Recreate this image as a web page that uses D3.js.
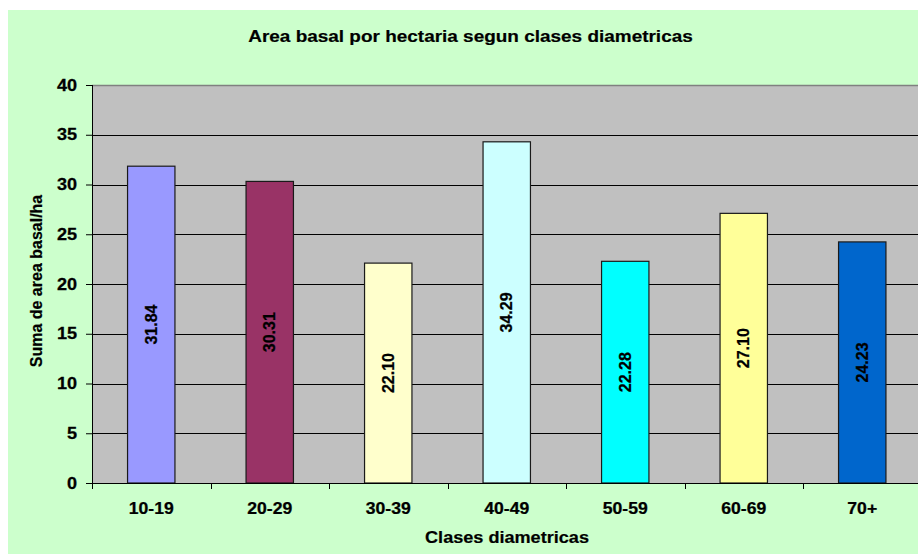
<!DOCTYPE html>
<html>
<head>
<meta charset="utf-8">
<script src="https://cdn.jsdelivr.net/npm/d3@7"></script>
<style>
  html, body { margin: 0; padding: 0; background: #ffffff; }
  svg { display: block; }
  text { font-family: "Liberation Sans", Arial, sans-serif; font-weight: bold; fill: #000; }
</style>
</head>
<body>
<svg id="chart" width="918" height="554"></svg>
<script>
const categories = ["10-19", "20-29", "30-39", "40-49", "50-59", "60-69", "70+"];
const values = [31.84, 30.31, 22.10, 34.29, 22.28, 27.10, 24.23];
const barColors = ["#9999ff", "#993366", "#ffffcc", "#ccffff", "#00ffff", "#ffff99", "#0066cc"];
const yTicks = [0, 5, 10, 15, 20, 25, 30, 35, 40];
const titleText = "Area basal por hectaria segun clases diametricas";
const xTitle = "Clases diametricas";
const yTitle = "Suma de area basal/ha";

const svg = d3.select("#chart");
const W = 918, H = 554;
const plot = { left: 92, right: 921.5, top: 85, bottom: 483 };

// chart background
svg.append("rect").attr("x", 8).attr("y", 10).attr("width", W - 8).attr("height", H - 10)
  .attr("fill", "#ccffcc");

const x = d3.scaleBand().domain(categories).range([plot.left, plot.right]).padding(0);
const y = d3.scaleLinear().domain([0, 40]).range([plot.bottom, plot.top]);

// plot area
svg.append("rect").attr("x", plot.left).attr("y", plot.top)
  .attr("width", plot.right - plot.left).attr("height", plot.bottom - plot.top)
  .attr("fill", "#c0c0c0");

// gridlines
svg.append("g").selectAll("line").data(yTicks.filter(t => t > 0 && t < 40)).join("line")
  .attr("x1", plot.left).attr("x2", plot.right)
  .attr("y1", d => Math.round(y(d)) + 0.5).attr("y2", d => Math.round(y(d)) + 0.5)
  .attr("stroke", "#000").attr("stroke-width", 1);
// top border
svg.append("line").attr("x1", plot.left).attr("x2", plot.right)
  .attr("y1", plot.top + 0.5).attr("y2", plot.top + 0.5)
  .attr("stroke", "#808080").attr("stroke-width", 1.5);

// bars
const barFrac = 0.4;
const bw = x.bandwidth() * barFrac;
svg.append("g").selectAll("rect").data(values).join("rect")
  .attr("x", (d, i) => x(categories[i]) + (x.bandwidth() - bw) / 2)
  .attr("y", d => y(d))
  .attr("width", bw)
  .attr("height", d => y(0) - y(d))
  .attr("fill", (d, i) => barColors[i])
  .attr("stroke", "#1a1a1a").attr("stroke-width", 1.2);

// value labels
svg.append("g").selectAll("text").data(values).join("text")
  .attr("transform", (d, i) => {
    const cx = x(categories[i]) + x.bandwidth() / 2;
    const cy = (y(d) + y(0)) / 2;
    return `translate(${cx},${cy}) rotate(-90)`;
  })
  .attr("text-anchor", "middle").attr("dominant-baseline", "central")
  .style("font-size", "16px").attr("stroke", "#000").attr("stroke-width", 0.25)
  .text(d => d.toFixed(2));

// y axis
const yAxis = d3.axisLeft(y).tickValues(yTicks).tickSize(6).tickFormat("");
const gy = svg.append("g").attr("transform", `translate(${plot.left},0)`).call(yAxis);
gy.select(".domain").attr("stroke", "#000").attr("d", `M0.5,${plot.top}V${plot.bottom}`);
gy.selectAll(".tick line").attr("stroke", "#000");
svg.append("g").selectAll("text").data(yTicks).join("text")
  .attr("transform", d => `translate(${plot.left - 15},${y(d)}) scale(1.13,1)`)
  .attr("text-anchor", "end").attr("dy", "0.35em")
  .style("font-size", "16px").attr("stroke", "#000").attr("stroke-width", 0.25)
  .text(d => d);

// x axis
const gx = svg.append("g").attr("transform", `translate(0,${plot.bottom})`);
gx.append("line").attr("x1", plot.left).attr("x2", plot.right).attr("y1", 0.5).attr("y2", 0.5)
  .attr("stroke", "#000");
const bounds = categories.map(c => x(c)).concat([plot.right]);
gx.selectAll("line.tk").data(bounds).join("line").attr("class", "tk")
  .attr("x1", d => Math.round(d) + 0.5).attr("x2", d => Math.round(d) + 0.5)
  .attr("y1", 0).attr("y2", 6).attr("stroke", "#000");
gx.selectAll("text").data(categories).join("text")
  .attr("transform", d => `translate(${x(d) + x.bandwidth() / 2},31) scale(1.1,1)`)
  .attr("text-anchor", "middle")
  .style("font-size", "16px").attr("stroke", "#000").attr("stroke-width", 0.25)
  .text(d => d);

// titles
svg.append("text").attr("transform", "translate(470.5,42) scale(1.115,1)").attr("text-anchor", "middle")
  .style("font-size", "17px").attr("stroke", "#000").attr("stroke-width", 0.2).text(titleText);
svg.append("text").attr("transform", "translate(507,543) scale(1.065,1)").attr("text-anchor", "middle")
  .style("font-size", "17px").attr("stroke", "#000").attr("stroke-width", 0.2).text(xTitle);
svg.append("text").attr("transform", `translate(42,281) rotate(-90)`).attr("text-anchor", "middle")
  .style("font-size", "16px").attr("stroke", "#000").attr("stroke-width", 0.2).text(yTitle);
</script>
</body>
</html>
